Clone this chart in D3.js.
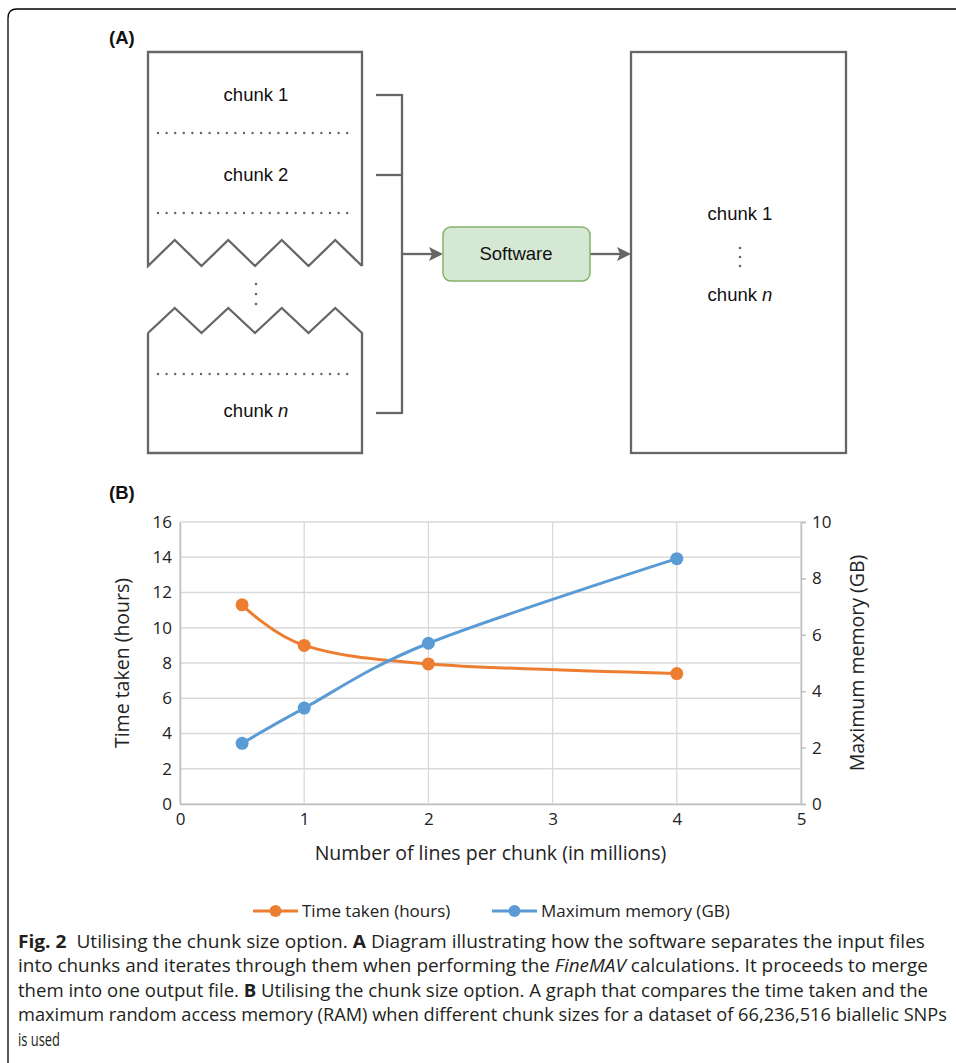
<!DOCTYPE html>
<html><head><meta charset="utf-8">
<script src="https://cdn.jsdelivr.net/npm/d3@7"></script>
<style>body{margin:0;background:#fff}svg{display:block}</style>
</head><body>
<script>
// ---------- DATA ----------
const chunkSizes = [0.5, 1, 2, 4];            // millions of lines per chunk
const timeTaken = [11.3, 9.0, 7.95, 7.4];      // hours
const maxMemory = [2.15, 3.4, 5.7, 8.7];       // GB
const xTicks = [0, 1, 2, 3, 4, 5];
const yLeftTicks = [0, 2, 4, 6, 8, 10, 12, 14, 16];
const yRightTicks = [0, 2, 4, 6, 8, 10];
const seriesNames = ["Time taken (hours)", "Maximum memory (GB)"];
const captionLines = [
  [["b","Fig. 2"],["n","  Utilising the chunk size option. "],["b","A"],["n"," Diagram illustrating how the software separates the input files"]],
  [["n","into chunks and iterates through them when performing the "],["i","FineMAV"],["n"," calculations. It proceeds to merge"]],
  [["n","them into one output file. "],["b","B"],["n"," Utilising the chunk size option. A graph that compares the time taken and the"]],
  [["n","maximum random access memory (RAM) when different chunk sizes for a dataset of 66,236,516 biallelic SNPs"]],
  [["n","is used"]]
];
const captionWidths = [907, 910, 910, 929, 42];

// ---------- SVG ----------
const W = 956, H = 1063;
const svg = d3.select("body").append("svg").attr("width", W).attr("height", H);

// outer frame
svg.append("path").attr("d", "M8,1063 L8,18 Q8,9 17,9 L956,9")
  .attr("fill","none").attr("stroke","#000").attr("stroke-width",1.3);

// ---------- PANEL A ----------
const gray = "#666", sw = 2.3;
const dfont = "'Liberation Sans', Arial, sans-serif";
svg.append("text").attr("x",109).attr("y",44).text("(A)")
  .attr("font-family",dfont).attr("font-weight","bold").attr("font-size",18.5).attr("fill","#111");

const A = svg.append("g");
const bx0 = 148, bx1 = 362, zigW = (bx1 - bx0) / 8;
function zig(yLow, yHigh, startLow) {
  const pts = [];
  for (let i = 0; i <= 8; i++) pts.push([bx0 + i * zigW, (i % 2 === 0) === startLow ? yLow : yHigh]);
  return pts;
}
// top box
const topPts = [[bx1, 266], [bx1, 52], [bx0, 52], [bx0, 266]].concat(zig(266, 240, true).slice(1));
A.append("path").attr("d", d3.line()(topPts.concat([[bx1,266]])))
  .attr("fill","none").attr("stroke",gray).attr("stroke-width",sw).attr("stroke-linejoin","miter");
// bottom box
const botPts = zig(333, 308, true).concat([[bx1, 453], [bx0, 453], [bx0, 333]]);
A.append("path").attr("d", d3.line()(botPts))
  .attr("fill","none").attr("stroke",gray).attr("stroke-width",sw);
// dotted separators
[133, 213, 374].forEach(y => A.append("line").attr("x1",158).attr("x2",bx1-8).attr("y1",y).attr("y2",y)
  .attr("stroke",gray).attr("stroke-width",2.4).attr("stroke-dasharray","0 8.6").attr("stroke-linecap","round"));
// vertical dots
function vdots(x, y0, n, gap) {
  for (let i = 0; i < n; i++) A.append("circle").attr("cx",x).attr("cy",y0 + i*gap).attr("r",1.3).attr("fill",gray);
}
vdots(256, 284, 3, 10);
vdots(740, 248, 3, 9);
function dtext(x, y, parts) {
  const t = A.append("text").attr("x",x).attr("y",y).attr("text-anchor","middle")
    .attr("font-family",dfont).attr("font-size",18.5).attr("fill","#111");
  parts.forEach(p => t.append("tspan").text(p[1]).attr("font-style", p[0]==="i"?"italic":null));
}
dtext(256, 101, [["n","chunk 1"]]);
dtext(256, 181, [["n","chunk 2"]]);
dtext(256, 417, [["n","chunk "],["i","n"]]);
dtext(740, 220, [["n","chunk 1"]]);
dtext(740, 301, [["n","chunk "],["i","n"]]);
// bracket
[95, 175, 413].forEach(y => A.append("line").attr("x1",376).attr("x2",402).attr("y1",y).attr("y2",y)
  .attr("stroke",gray).attr("stroke-width",sw));
A.append("line").attr("x1",402).attr("x2",402).attr("y1",94).attr("y2",414).attr("stroke",gray).attr("stroke-width",sw);
// arrows
function arrow(x0, x1, y) {
  A.append("line").attr("x1",x0).attr("x2",x1-10).attr("y1",y).attr("y2",y).attr("stroke",gray).attr("stroke-width",sw);
  A.append("path").attr("d",`M${x1},${y} L${x1-14},${y-7} L${x1-11},${y} L${x1-14},${y+7} Z`).attr("fill",gray);
}
arrow(402, 443, 254);
arrow(590, 631, 254);
// software box
A.append("rect").attr("x",443).attr("y",227).attr("width",147).attr("height",54).attr("rx",8)
  .attr("fill","#d5e8d4").attr("stroke","#82b366").attr("stroke-width",1.5);
dtext(516, 260, [["n","Software"]]);
// output box
A.append("rect").attr("x",631).attr("y",52).attr("width",215).attr("height",401)
  .attr("fill","none").attr("stroke",gray).attr("stroke-width",sw);

// ---------- PANEL B ----------
svg.append("text").attr("x",109).attr("y",499).text("(B)")
  .attr("font-family",dfont).attr("font-weight","bold").attr("font-size",18.5).attr("fill","#111");

const cfont = "'Open Sans', sans-serif";
const m = {l:180, r:801, t:522, b:804};
const x = d3.scaleLinear().domain([0,5]).range([m.l, m.r]);
const yL = d3.scaleLinear().domain([0,16]).range([m.b, m.t]);
const yR = d3.scaleLinear().domain([0,10]).range([m.b, m.t]);
const B = svg.append("g");

// gridlines
B.append("g").selectAll("line").data(yLeftTicks).join("line")
  .attr("x1",m.l).attr("x2",m.r).attr("y1",d=>yL(d)).attr("y2",d=>yL(d))
  .attr("stroke","#d9d9d9").attr("stroke-width",1.3);
B.append("g").selectAll("line").data(xTicks).join("line")
  .attr("x1",d=>x(d)).attr("x2",d=>x(d)).attr("y1",m.t).attr("y2",m.b)
  .attr("stroke","#d9d9d9").attr("stroke-width",1.3);

// axes
const axB = B.append("g").attr("transform",`translate(0,${m.b})`)
  .call(d3.axisBottom(x).tickValues(xTicks).tickSize(0).tickPadding(9).tickFormat(d3.format("d")));
const axL = B.append("g").attr("transform",`translate(${m.l},0)`)
  .call(d3.axisLeft(yL).tickValues(yLeftTicks).tickSize(0).tickPadding(8).tickFormat(d3.format("d")));
const axR = B.append("g").attr("transform",`translate(${m.r},0)`)
  .call(d3.axisRight(yR).tickValues(yRightTicks).tickSize(5).tickPadding(6).tickFormat(d3.format("d")));
[axB, axL, axR].forEach(a => {
  a.select(".domain").attr("stroke","#bfbfbf").attr("stroke-width",1.5);
  a.selectAll(".tick line").attr("stroke","#bfbfbf").attr("stroke-width",1.5);
  a.selectAll("text").attr("font-family",cfont).attr("font-size",17).attr("fill","#222");
});

// series
const colors = ["#ed7d31", "#5b9bd5"];
const series = [
  chunkSizes.map((c,i)=>[c, timeTaken[i]]),
  chunkSizes.map((c,i)=>[c, maxMemory[i]])
];
const scales = [yL, yR];
series.forEach((s, k) => {
  const line = d3.line().x(d=>x(d[0])).y(d=>scales[k](d[1])).curve(d3.curveCatmullRom.alpha(0));
  B.append("path").attr("d", line(s)).attr("fill","none").attr("stroke",colors[k]).attr("stroke-width",3);
});
series.forEach((s, k) => {
  B.append("g").selectAll("circle").data(s).join("circle")
    .attr("cx",d=>x(d[0])).attr("cy",d=>scales[k](d[1])).attr("r",6.5).attr("fill",colors[k]);
});

// axis titles
B.append("text").attr("transform",`translate(129,${(m.t+m.b)/2}) rotate(-90)`).attr("text-anchor","middle")
  .attr("font-family",cfont).attr("font-size",19.5).attr("fill","#222").text("Time taken (hours)");
B.append("text").attr("transform",`translate(864,${(m.t+m.b)/2}) rotate(-90)`).attr("text-anchor","middle")
  .attr("font-family",cfont).attr("font-size",19.5).attr("fill","#222").text("Maximum memory (GB)");
B.append("text").attr("x",(m.l+m.r)/2).attr("y",860).attr("text-anchor","middle")
  .attr("font-family",cfont).attr("font-size",19.5).attr("fill","#222").text("Number of lines per chunk (in millions)");

// legend
const legX = [253, 492];
seriesNames.forEach((n, k) => {
  const g = B.append("g").attr("transform",`translate(${legX[k]},911)`);
  g.append("line").attr("x1",0).attr("x2",45).attr("stroke",colors[k]).attr("stroke-width",3);
  g.append("circle").attr("cx",22.5).attr("r",6).attr("fill",colors[k]);
  g.append("text").attr("x",49).attr("y",6).attr("font-family",cfont).attr("font-size",17).attr("fill","#222").text(n);
});

// ---------- CAPTION ----------
const capFont = "'Liberation Sans Narrow', 'Open Sans', sans-serif";
captionLines.forEach((parts, i) => {
  const t = svg.append("text").attr("x",18).attr("y",948 + i*24.4)
    .attr("font-family",capFont).attr("font-size",18).attr("fill","#231f20")
    .attr("textLength",captionWidths[i]).attr("lengthAdjust","spacingAndGlyphs")
    .attr("xml:space","preserve").style("white-space","pre");
  parts.forEach(p => t.append("tspan").text(p[1])
    .attr("font-weight", p[0]==="b" ? "bold" : null)
    .attr("font-style", p[0]==="i" ? "italic" : null));
});
</script>
</body></html>
